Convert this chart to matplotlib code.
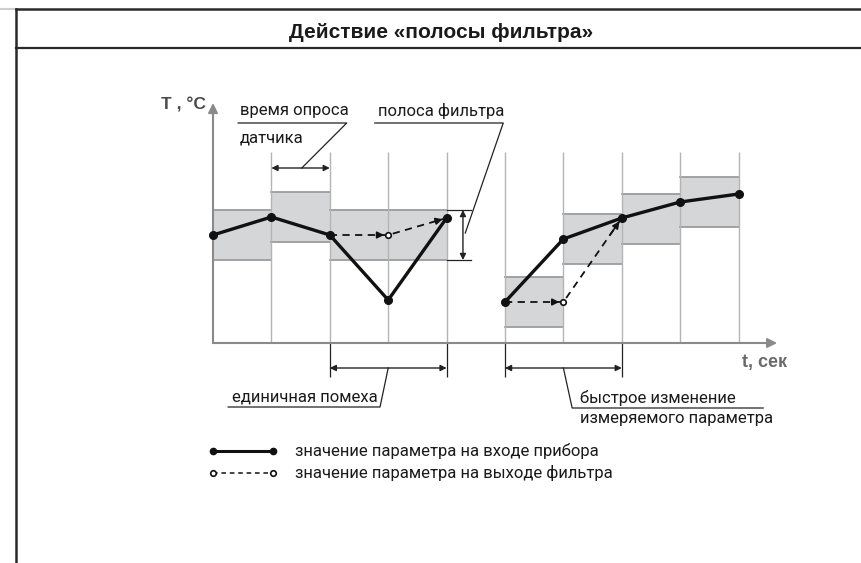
import matplotlib.pyplot as plt
from matplotlib.lines import Line2D

plt.rcParams['font.family'] = ['Roboto', 'DejaVu Sans']

# --- данные (опросы датчика) ---
grid_ticks = [1, 2, 3, 4, 5, 6, 7, 8, 9]

in1_t = [0, 1, 2, 3, 4]
in1_v = [10.8, 12.6, 10.8, 4.3, 12.5]
in2_t = [5, 6, 7, 8, 9]
in2_v = [4.1, 10.4, 12.5, 14.1, 14.9]

out1_t = [2, 3, 4]
out1_v = [10.8, 10.8, 12.5]
out2_t = [5, 6, 7]
out2_v = [4.1, 4.1, 12.5]

band_start = [0, 1, 2, 5, 6, 7, 8]
band_end = [1, 2, 4, 6, 7, 8, 9]
band_center = [10.8, 12.6, 10.8, 4.1, 10.4, 12.4, 14.1]
band_half = 2.5

title = 'Действие «полосы фильтра»'
legend_labels = ['значение параметра на входе прибора',
                 'значение параметра на выходе фильтра']

GRAY_FILL = '#d5d6d8'
GRAY_EDGE = '#9c9c9c'
GRAY_AX = '#8a8a8a'

fig = plt.figure(figsize=(8.61, 5.63), dpi=100)
ax = fig.add_axes([0, 0, 1, 1])
ax.set_xlim(-213 / 58.4, (861 - 213) / 58.4)
ax.set_ylim(-22.0, 34.3)
ax.axis('off')

# рамка и заголовок
fig.add_artist(Line2D([0, 16 / 861], [1 - 9 / 563] * 2, color='#cfcfcf', lw=1.5))
fig.add_artist(Line2D([16 / 861, 1], [1 - 9 / 563] * 2, color='#2a2a2a', lw=1.8))
fig.add_artist(Line2D([16 / 861] * 2, [0, 1 - 9 / 563], color='#2a2a2a', lw=1.8))
fig.add_artist(Line2D([16 / 861, 1], [1 - 48 / 563] * 2, color='#2a2a2a', lw=1.6))
fig.text(441.5 / 861, 1 - 32 / 563, title, ha='center', va='center',
         fontsize=15, fontweight='bold', color='#1a1a1a',
         family=['Liberation Sans', 'DejaVu Sans'])

# полосы фильтра
for s, e, c in zip(band_start, band_end, band_center):
    ax.fill_between([s, e], c - band_half, c + band_half, facecolor=GRAY_FILL,
                    edgecolor='none', zorder=1)
    ax.plot([s, e], [c + band_half] * 2, color=GRAY_EDGE, lw=1.3, zorder=2)
    ax.plot([s, e], [c - band_half] * 2, color=GRAY_EDGE, lw=1.3, zorder=2)

# вертикальные линии моментов опроса
ax.vlines(grid_ticks, 0, 19.1, color='#b4b4b4', lw=1.0, zorder=2)

# оси
arrow = dict(arrowstyle='-|>', color=GRAY_AX, lw=1.5, mutation_scale=14,
             shrinkA=0, shrinkB=0)
ax.annotate('', xy=(0, 24), xytext=(0, 0), arrowprops=arrow, zorder=3)
ax.annotate('', xy=(9.66, 0), xytext=(0, 0), arrowprops=arrow, zorder=3)
ax.text(-0.13, 23.8, 'T , °C', ha='right', va='center', fontsize=12.5,
        fontweight='bold', color='#4a4a4a', family=['Liberation Sans', 'DejaVu Sans'])
ax.text(9.06, -1.9, 't, сек', ha='left', va='center', fontsize=13,
        fontweight='bold', color='#6a6a6a', family=['Liberation Sans', 'DejaVu Sans'])

# сигнал на входе
for tt, vv in [(in1_t, in1_v), (in2_t, in2_v)]:
    ax.plot(tt, vv, color='#111111', lw=2.4, marker='o', ms=5.5, zorder=5)

# сигнал на выходе фильтра
for tt, vv in [(out1_t, out1_v), (out2_t, out2_v)]:
    ax.plot(tt, vv, color='#111111', lw=1.3, ls=(0, (4, 3)), zorder=4)
    for i in range(1, len(tt)):
        x0, y0, x1, y1 = tt[i - 1], vv[i - 1], tt[i], vv[i]
        ax.annotate('', xy=(x1, y1), xytext=(x0 + 0.8 * (x1 - x0), y0 + 0.8 * (y1 - y0)),
                    arrowprops=dict(arrowstyle='-|>', color='#111111', lw=1.2,
                                    mutation_scale=10, shrinkA=0, shrinkB=3), zorder=4)
    ax.plot(tt[1:2], vv[1:2], ls='none', marker='o', ms=4, mfc='white',
            mec='#111111', mew=1.2, zorder=6)

lab_kw = dict(fontsize=12, color='#1a1a1a')
thin = dict(color='#222222', lw=0.9)
dbl = dict(arrowstyle='<|-|>', color='#222222', lw=1.0, mutation_scale=9,
           shrinkA=0, shrinkB=0)

# время опроса датчика
ax.annotate('', xy=(1, 17.5), xytext=(2, 17.5), arrowprops=dbl)
ax.plot([0.43, 2.29, 1.52], [22.0, 22.0, 17.5], **thin)
ax.text(0.46, 23.2, 'время опроса', ha='left', va='center', **lab_kw)
ax.text(0.46, 20.5, 'датчика', ha='left', va='center', **lab_kw)

# полоса фильтра
ax.plot([4, 4.42], [13.3, 13.3], **thin)
ax.plot([4, 4.42], [8.3, 8.3], **thin)
ax.annotate('', xy=(4.28, 13.3), xytext=(4.28, 8.3), arrowprops=dbl)
ax.plot([2.77, 4.97, 4.32], [22.0, 22.0, 11.0], **thin)
ax.text(2.83, 23.2, 'полоса фильтра', ha='left', va='center', **lab_kw)

# единичная помеха
ax.vlines([2, 4], -3.4, 0, color='#222222', lw=0.9)
ax.annotate('', xy=(2, -2.5), xytext=(4, -2.5), arrowprops=dbl)
ax.plot([3.0, 2.86, 0.26], [-2.5, -6.4, -6.4], **thin)
ax.text(0.33, -5.4, 'единичная помеха', ha='left', va='center', **lab_kw)

# быстрое изменение
ax.vlines([5, 7], -3.4, 0, color='#222222', lw=0.9)
ax.annotate('', xy=(5, -2.5), xytext=(7, -2.5), arrowprops=dbl)
ax.plot([6.0, 6.15, 9.42], [-2.5, -6.5, -6.5], **thin)
ax.text(6.28, -5.5, 'быстрое изменение', ha='left', va='center', **lab_kw)
ax.text(6.28, -7.5, 'измеряемого параметра', ha='left', va='center', **lab_kw)

# легенда
ax.plot([0, 1.03], [-10.8, -10.8], color='#111111', lw=2.2, marker='o', ms=4.5)
ax.plot([0, 1.03], [-13.0, -13.0], color='#111111', lw=1.1, ls=(0, (3, 2.5)),
        marker='o', ms=4, mfc='white', mew=1.2)
ax.text(1.40, -10.8, legend_labels[0], ha='left', va='center', **lab_kw)
ax.text(1.40, -13.0, legend_labels[1], ha='left', va='center', **lab_kw)

fig.savefig('out.png', dpi=100)
